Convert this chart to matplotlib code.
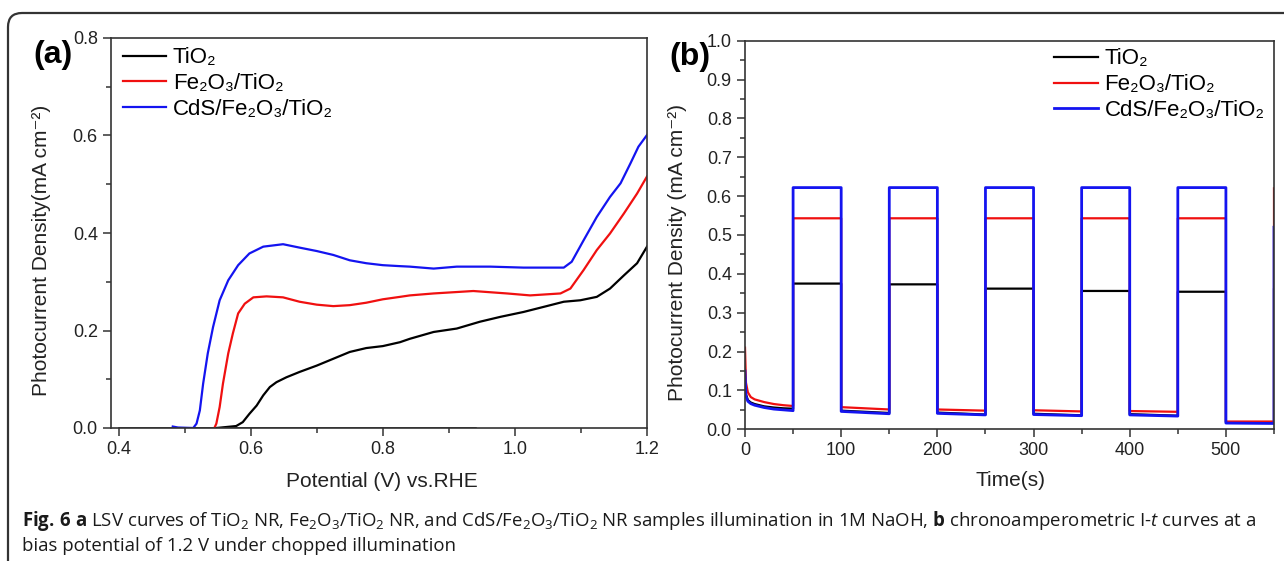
import matplotlib
matplotlib.use('Agg')
import matplotlib.pyplot as plt
from matplotlib.patches import FancyBboxPatch
from matplotlib.transforms import IdentityTransform
from matplotlib.ticker import MultipleLocator

plt.rcParams['font.family'] = ['Liberation Sans', 'DejaVu Sans']
plt.rcParams['mathtext.fontset'] = 'custom'
plt.rcParams['mathtext.rm'] = 'Open Sans'
plt.rcParams['mathtext.it'] = 'Open Sans:italic'
plt.rcParams['mathtext.bf'] = 'Open Sans:bold'

# ---------------- Panel (a) data: LSV ----------------
tio2_v = [0.548, 0.578, 0.588, 0.598, 0.609, 0.619, 0.629, 0.639, 0.654, 0.674, 0.700, 0.725,
          0.750, 0.775, 0.800, 0.826, 0.841, 0.877, 0.912, 0.947, 0.978, 1.013, 1.048, 1.074,
          1.099, 1.124, 1.144, 1.165, 1.185, 1.200]
tio2_j = [0.000, 0.004, 0.012, 0.029, 0.046, 0.067, 0.084, 0.094, 0.104, 0.115, 0.128, 0.142,
          0.156, 0.164, 0.168, 0.176, 0.183, 0.197, 0.204, 0.218, 0.228, 0.238, 0.250, 0.259,
          0.262, 0.269, 0.286, 0.313, 0.338, 0.372]
dark_v = [0.400, 0.940]
dark_j = [0.0, 0.0]
fe_v = [0.545, 0.548, 0.553, 0.558, 0.566, 0.573, 0.581, 0.591, 0.604, 0.624, 0.649, 0.674,
        0.700, 0.725, 0.750, 0.775, 0.800, 0.826, 0.841, 0.877, 0.937, 0.988, 1.023, 1.069,
        1.084, 1.104, 1.124, 1.144, 1.165, 1.185, 1.200]
fe_j = [0.000, 0.009, 0.043, 0.091, 0.153, 0.194, 0.235, 0.255, 0.268, 0.270, 0.268, 0.259,
        0.253, 0.250, 0.252, 0.257, 0.264, 0.269, 0.272, 0.276, 0.281, 0.276, 0.272, 0.276,
        0.286, 0.324, 0.365, 0.399, 0.440, 0.481, 0.516]
cds_v = [0.482, 0.490, 0.513, 0.518, 0.523, 0.528, 0.535, 0.543, 0.553, 0.566, 0.581, 0.598,
         0.619, 0.649, 0.674, 0.700, 0.725, 0.750, 0.775, 0.800, 0.826, 0.841, 0.877, 0.912,
         0.963, 1.013, 1.074, 1.086, 1.104, 1.124, 1.144, 1.160, 1.175, 1.187, 1.200]
cds_j = [0.003, 0.001, 0.000, 0.009, 0.036, 0.091, 0.153, 0.207, 0.262, 0.303, 0.334, 0.358,
         0.372, 0.377, 0.370, 0.363, 0.355, 0.344, 0.338, 0.334, 0.332, 0.331, 0.327, 0.331,
         0.331, 0.329, 0.329, 0.341, 0.385, 0.433, 0.474, 0.502, 0.543, 0.577, 0.601]

# ---------------- Panel (b) data: chopped I-t ----------------
on_times = [50, 150, 250, 350, 450]
on_duration = 50
end_time = 550
# initial dark decay (0-50 s)
decay_t = [0, 1, 3, 6, 10, 20, 30, 40, 50]
tio2_decay = [0.140, 0.090, 0.075, 0.069, 0.065, 0.059, 0.056, 0.054, 0.053]
fe_decay = [0.210, 0.120, 0.095, 0.083, 0.077, 0.070, 0.065, 0.062, 0.060]
cds_decay = [0.150, 0.085, 0.072, 0.066, 0.062, 0.056, 0.052, 0.050, 0.048]
# light-on plateaus per cycle
tio2_light = [0.375, 0.373, 0.362, 0.356, 0.354]
fe_light = [0.543, 0.543, 0.543, 0.543, 0.543]
cds_light = [0.622, 0.622, 0.622, 0.622, 0.622]
# dark currents after each cycle (start, end)
tio2_dark_start = [0.048, 0.043, 0.040, 0.039, 0.018]
tio2_dark_end = [0.042, 0.038, 0.036, 0.035, 0.017]
fe_dark_start = [0.057, 0.051, 0.049, 0.047, 0.020]
fe_dark_end = [0.051, 0.048, 0.046, 0.045, 0.020]
cds_dark_start = [0.046, 0.041, 0.038, 0.037, 0.016]
cds_dark_end = [0.040, 0.037, 0.035, 0.034, 0.015]
# value reached at the final switch-on (t = 550 s)
tio2_final = 0.36
fe_final = 0.62
cds_final = 0.52

labels = ['TiO\u2082', 'Fe\u2082O\u2083/TiO\u2082', 'CdS/Fe\u2082O\u2083/TiO\u2082']
colors = ['#000000', '#f01010', '#1414f0']


def chopped(decay, light, dstart, dend, final):
    t = list(decay_t)
    j = list(decay)
    for k, ton in enumerate(on_times):
        toff = ton + on_duration
        t += [ton, toff, toff, toff + on_duration]
        j += [light[k], light[k], dstart[k], dend[k]]
    t.append(end_time)
    j.append(final)
    return t, j


W, H = 1284, 561
fig = plt.figure(figsize=(W / 100, H / 100), dpi=100)
fig.patch.set_facecolor('white')

ax_a = fig.add_axes([111 / W, 1 - 428 / H, 536 / W, 390 / H])
ax_b = fig.add_axes([745 / W, 1 - 429.3 / H, 529 / W, 388.6 / H])

spine_c = '#333333'
tick_c = '#333333'

# ---- panel a ----
ax_a.plot(dark_v, dark_j, color=colors[0], lw=1.8)
ax_a.plot(tio2_v, tio2_j, color=colors[0], lw=1.6, label=labels[0])
ax_a.plot(fe_v, fe_j, color=colors[1], lw=1.6, label=labels[1])
ax_a.plot(cds_v, cds_j, color=colors[2], lw=1.6, label=labels[2])
ax_a.set_xlim(0.3885, 1.2)
ax_a.set_ylim(0.0, 0.8)
ax_a.xaxis.set_major_locator(MultipleLocator(0.2))
ax_a.xaxis.set_minor_locator(MultipleLocator(0.1))
ax_a.yaxis.set_major_locator(MultipleLocator(0.2))
ax_a.yaxis.set_minor_locator(MultipleLocator(0.1))
ax_a.set_xticks([0.4, 0.6, 0.8, 1.0, 1.2])
ax_a.set_xticklabels(['0.4', '0.6', '0.8', '1.0', '1.2'])
ax_a.set_xlabel('Potential (V) vs.RHE', fontsize=15)
ax_a.set_ylabel('Photocurrent Density(mA cm\u207b\u00b2)', fontsize=15)
ax_a.xaxis.set_label_coords(0.506, -0.136)
ax_a.xaxis.label.set_va('center')
ax_a.yaxis.set_label_coords(-0.129, 0.456)
ax_a.yaxis.label.set_va('center')
leg_a = ax_a.legend(loc='upper left', bbox_to_anchor=(0.022, 0.976), frameon=False,
                    fontsize=16, handlelength=1.95, handletextpad=0.3,
                    labelspacing=0.22, borderpad=0, borderaxespad=0)
ax_a.text(-0.108, 0.956, '(a)', transform=ax_a.transAxes, fontsize=23,
          fontweight='bold', ha='center', va='center')

# ---- panel b ----
for decay, light, ds, de, fin, c, lab, lw in [
        (tio2_decay, tio2_light, tio2_dark_start, tio2_dark_end, tio2_final, colors[0], labels[0], 1.6),
        (fe_decay, fe_light, fe_dark_start, fe_dark_end, fe_final, colors[1], labels[1], 1.6),
        (cds_decay, cds_light, cds_dark_start, cds_dark_end, cds_final, colors[2], labels[2], 2.0)]:
    t, j = chopped(decay, light, ds, de, fin)
    ax_b.plot(t, j, color=c, lw=lw, label=lab)
ax_b.set_xlim(0, 550)
ax_b.set_ylim(0.0, 1.0)
ax_b.xaxis.set_major_locator(MultipleLocator(100))
ax_b.xaxis.set_minor_locator(MultipleLocator(50))
ax_b.yaxis.set_major_locator(MultipleLocator(0.1))
ax_b.yaxis.set_minor_locator(MultipleLocator(0.05))
ax_b.set_xlabel('Time(s)', fontsize=15)
ax_b.set_ylabel('Photocurrent Density (mA cm\u207b\u00b2)', fontsize=15)
ax_b.xaxis.set_label_coords(0.501, -0.133)
ax_b.xaxis.label.set_va('center')
ax_b.yaxis.set_label_coords(-0.127, 0.456)
ax_b.yaxis.label.set_va('center')
leg_b = ax_b.legend(loc='upper left', bbox_to_anchor=(0.585, 0.98), frameon=False,
                    fontsize=16, handlelength=1.95, handletextpad=0.3,
                    labelspacing=0.22, borderpad=0, borderaxespad=0)
ax_b.text(-0.104, 0.958, '(b)', transform=ax_b.transAxes, fontsize=23,
          fontweight='bold', ha='center', va='center')

for ax in (ax_a, ax_b):
    for s in ax.spines.values():
        s.set_color(spine_c)
        s.set_linewidth(1.2)
    ax.tick_params(which='both', direction='out', colors=tick_c, labelcolor='#222222',
                   labelsize=13, width=1.1)
    ax.tick_params(which='major', length=6)
    ax.tick_params(which='minor', length=3.5)
    ax.xaxis.label.set_color('#222222')
    ax.yaxis.label.set_color('#222222')

# ---- outer rounded frame ----
frame = FancyBboxPatch((8, -30), 1320, 578, boxstyle='round,pad=0,rounding_size=14',
                       transform=IdentityTransform(), lw=1.6, ec='#333333', fc='none')
fig.add_artist(frame)

# ---- caption ----
cap1 = (r'$\mathbf{Fig.\,6}$ $\mathbf{a}$ LSV curves of TiO$_2$ NR, Fe$_2$O$_3$/TiO$_2$ NR, and '
        r'CdS/Fe$_2$O$_3$/TiO$_2$ NR samples illumination in 1M NaOH, $\mathbf{b}$ '
        r'chronoamperometric I-$\mathit{t}$ curves at a')
cap2 = 'bias potential of 1.2 V under chopped illumination'
t1 = fig.text(22 / W, 1 - 521 / H, cap1, fontsize=12, family='Open Sans', color='#1a1a1a',
              ha='left', va='center')
t2 = fig.text(22 / W, 1 - 546 / H, cap2, fontsize=12, family='Open Sans', color='#1a1a1a',
              ha='left', va='center')
fig.canvas.draw()
r = fig.canvas.get_renderer()
w1 = t1.get_window_extent(r).width
fs = 12 * 1235 / w1
t1.set_fontsize(fs)
t2.set_fontsize(fs)

fig.savefig('out.png', dpi=100, facecolor='white')
